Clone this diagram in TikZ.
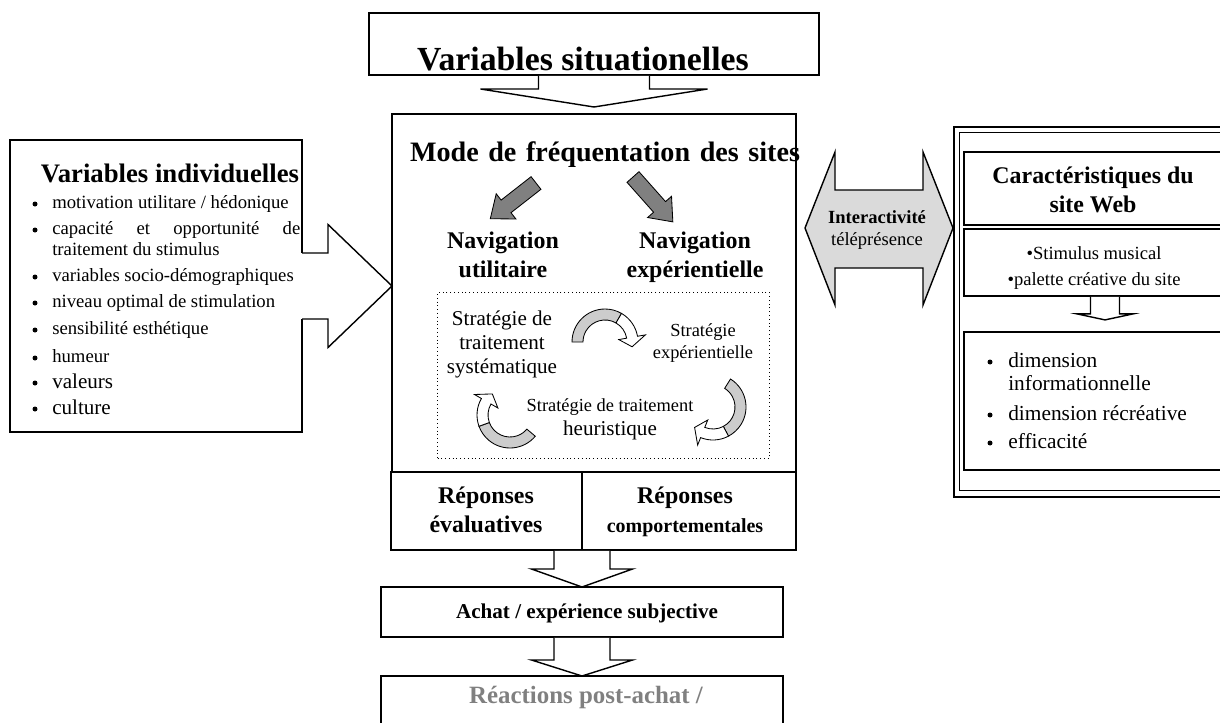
\documentclass[tikz,border=0pt]{standalone}
\usepackage{fontspec}
\setmainfont{Liberation Serif}
\usetikzlibrary{calc}
\newlength\pxu
\setlength\pxu{0.025cm}
\definecolor{grisclair}{HTML}{DADADA}
\definecolor{grisfonce}{HTML}{808080}
\definecolor{grisruban}{HTML}{CCCCCC}
\newcommand\taille[2]{\fontsize{#1}{#2}\selectfont}
\tikzset{
  boite/.style 2 args={draw,line width=1.2pt,minimum width=#1*\pxu,minimum height=#2*\pxu,
    anchor=north west,inner sep=0pt,outer sep=0pt},
  trait/.style={line width=1pt},
  txt/.style={inner sep=0pt,anchor=base,align=center},
  item/.style={inner sep=0pt,anchor=base west},
  puce/.style={circle,fill,inner sep=0pt,minimum size=5*\pxu},
  pics/blocbas/.style n args={4}{code={
    \path[pic actions] (-#1,0) -- (-#1,#2) -- (-#3,#2) -- (0,#2+#4) -- (#3,#2) -- (#1,#2) -- (#1,0);
  }},
  pics/blocplein/.style n args={4}{code={
    \path[pic actions] (-#1,0) -- (-#1,#2) -- (-#3,#2) -- (0,#2+#4) -- (#3,#2) -- (#1,#2) -- (#1,0) -- cycle;
  }},
  pics/boucle/.style={code={
    \filldraw[fill=grisruban,line width=0.6pt] (180:33) arc (180:300:33) -- (300:22) arc (300:180:22) -- cycle;
    \filldraw[fill=white,line width=0.6pt] (300:33) arc (300:350:33) -- (350:41) -- (10:27.5) -- (350:14) -- (350:22) arc (350:300:22) -- cycle;
  }},
}

\begin{document}
\begin{tikzpicture}[x=\pxu,y=-\pxu]
  \useasboundingbox (0,0) rectangle (1220,722);

  % variables situationelles
  \node[boite={450}{62}] (situ) at (369,13) {};
  \node[txt,font=\bfseries\taille{24}{26}] (situT) at (583,71) {Variables situationelles};
  \pic[draw,fill=white,trait] at ($(situ.south)+(0,0.9)$) {blocbas={55.5}{13.1}{113.5}{18}};

  % variables individuelles
  \node[boite={292}{292}] (indiv) at (10,140) {};
  \node[txt,font=\bfseries\taille{19}{22}] (indivT) at (170,183) {Variables individuelles};
  \begin{scope}[every node/.append style={font=\taille{13.3}{16}}]
    \node[puce] (p1) at (35,204) {};
    \node[item] (i1) at (52,208) {motivation utilitare / hédonique};
    \node[puce] (p2) at (35,230) {};
    \node[item] (i2) at (52,234) {\makebox[248\pxu][s]{capacité et opportunité de}};
    \node[item] (i2b) at (52,255) {traitement du stimulus};
    \node[puce] (p3) at (35,277) {};
    \node[item] (i3) at (52,281) {variables socio-démographiques};
    \node[puce] (p4) at (35,303) {};
    \node[item] (i4) at (52,307) {niveau optimal de stimulation};
    \node[puce] (p5) at (35,330) {};
    \node[item] (i5) at (52,334) {sensibilité esthétique};
    \node[puce] (p6) at (35,358) {};
    \node[item] (i6) at (52,362) {humeur};
  \end{scope}
  \node[puce] (p7) at (35,383) {};
  \node[item,font=\taille{15}{18}] (i7) at (52,388) {valeurs};
  \node[puce] (p8) at (35,409) {};
  \node[item,font=\taille{15}{18}] (i8) at (52,414) {culture};
  \fill[white] ($(indiv.east)+(-1.8,-33)$) rectangle ($(indiv.east)+(1.8,33)$);
  \pic[draw,fill=white,trait,rotate=90] at (indiv.east) {blocbas={33}{26}{61.5}{64}};

  % mode de frequentation
  \node[boite={404}{358}] (mode) at (392,114) {};
  \node[txt,font=\bfseries\taille{20}{24}] (modeT) at (605,162) {\makebox[390\pxu][s]{Mode de fréquentation des sites}};
  \pic[draw,fill=grisfonce,line width=0.6pt,rotate=-52] at (536,183) {blocplein={8}{38}{16}{20}};
  \pic[draw,fill=grisfonce,line width=0.6pt,rotate=41.6] at (633,177) {blocplein={8}{40}{16}{20}};
  \node[txt,font=\bfseries\taille{17}{20}] (navU) at (503,277) {Navigation\\utilitaire};
  \node[txt,font=\bfseries\taille{17}{20}] (navE) at (695,277) {Navigation\\expérientielle};
  \node[draw,dotted,line width=0.7pt,anchor=north west,inner sep=0pt,
    minimum width=332*\pxu,minimum height=166*\pxu] (strat) at (437,292) {};
  \node[txt,font=\taille{15}{17}] (sysT) at (502,373) {Stratégie de\\traitement\\systématique};
  \node[txt,font=\taille{13.1}{15.6}] (expT) at (703,358) {Stratégie\\expérientielle};
  \node[txt,font=\taille{13.1}{17}] (heuT) at (610,435) {Stratégie de traitement\\{\taille{15}{17}heuristique}};
  \pic at (605,342) {boucle};
  \pic[rotate=-122] at (713,407) {boucle};
  \pic[rotate=140] at (510,415) {boucle};

  % reponses
  \node[boite={191}{78}] (repE) at (391,472) {};
  \node[boite={214}{78}] (repC) at (582,472) {};
  \node[txt,font=\bfseries\taille{17}{20.6}] (repET) at (486,532) {Réponses\\évaluatives};
  \node[txt,font=\bfseries\taille{17}{20.6}] (repCT) at (685,532) {Réponses\\{\taille{14.2}{20.6}comportementales}};
  \pic[draw,fill=white,trait] at ($(repE.south east)+(0,0.9)$) {blocbas={28}{18.1}{50.5}{18}};

  % achat
  \node[boite={402}{50}] (achat) at (381,587) {};
  \node[txt,font=\bfseries\taille{15}{18}] (achatT) at (587,618) {Achat / expérience subjective};
  \pic[draw,fill=white,trait] at ($(achat.south)+(0,0.9)$) {blocbas={28}{22.1}{50.5}{16}};
  \node[boite={402}{60}] (reac) at (381,676) {};
  \node[txt,font=\bfseries\taille{17.7}{20},text=grisfonce] (reacT) at (586,703) {Réactions post-achat /};

  % interactivite
  \filldraw[fill=grisclair,trait] (805,228) -- (835,152) -- (835,190) -- (923,190) -- (923,152)
    -- (953,228) -- (923,305) -- (923,268) -- (835,268) -- (835,305) -- cycle;
  \node[txt,font=\taille{13.2}{15.6}] (interT) at (877,245) {\textbf{Interactivité}\\téléprésence};

  % site web
  \node[boite={300}{370},line width=1.8pt] (webA) at (954,127) {};
  \node[boite={290}{358},line width=0.6pt] (webB) at (959,132) {};
  \node[boite={290}{73}] (carac) at (964,152) {};
  \node[boite={290}{67}] (stim) at (964,229) {};
  \node[boite={290}{138}] (dims) at (964,332) {};
  \node[txt,font=\bfseries\taille{17}{20.6}] (caracT) at (1093,212) {Caractéristiques du\\site Web};
  \node[txt,font=\taille{13.2}{17.8}] (stimT) at (1094,285) {•Stimulus musical\\•palette créative du site};
  \pic[draw,fill=white,trait] at ($(stim.south west)+(141,0.9)$) {blocbas={14.5}{17}{28}{6}};
  \begin{scope}[every node/.append style={font=\taille{15.2}{18}}]
    \node[puce] (q1) at (990,362) {};
    \node[item] (d1) at (1008,367) {dimension};
    \node[item] (d1b) at (1008,390) {informationnelle};
    \node[puce] (q2) at (990,415) {};
    \node[item] (d2) at (1008,420) {dimension récréative};
    \node[puce] (q3) at (990,443) {};
    \node[item] (d3) at (1008,448) {efficacité};
  \end{scope}
\end{tikzpicture}
\end{document}
